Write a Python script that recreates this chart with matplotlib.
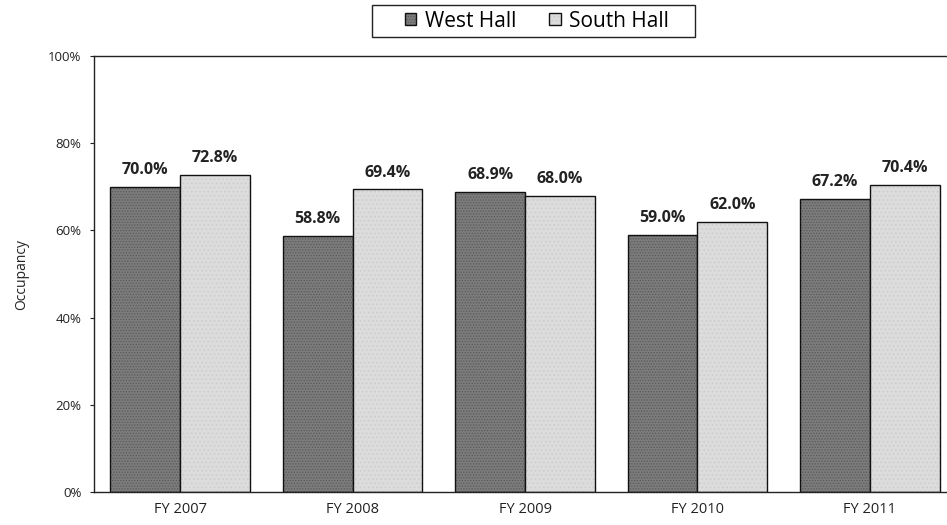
import matplotlib
matplotlib.use("Agg")
import matplotlib.pyplot as plt
from matplotlib.ticker import FuncFormatter
from matplotlib.patches import Rectangle
import numpy as np

categories = ["FY 2007", "FY 2008", "FY 2009", "FY 2010", "FY 2011"]
west_hall = [70.0, 58.8, 68.9, 59.0, 67.2]
south_hall = [72.8, 69.4, 68.0, 62.0, 70.4]
series_names = ["West Hall", "South Hall"]

plt.rcParams["font.family"] = ["Open Sans", "DejaVu Sans"]
plt.rcParams["hatch.linewidth"] = 0.6

fig = plt.figure(figsize=(9.47, 5.25), dpi=100)
# plot area runs past the right edge of the figure
ax = fig.add_axes([94 / 947, 33 / 525, 862 / 947, 436 / 525])

x = np.arange(len(categories))
w = 0.405
b1 = ax.bar(x - w / 2, west_hall, w, color="#7c7c7c", edgecolor="#111111",
            linewidth=1.0, hatch="......", label=series_names[0])
b2 = ax.bar(x + w / 2, south_hall, w, color="#dcdcdc", edgecolor="#111111",
            linewidth=1.0, hatch="....", label=series_names[1])
for b in b1:
    b._hatch_color = (0.35, 0.35, 0.35, 1.0)
for b in b2:
    b._hatch_color = (0.80, 0.80, 0.80, 1.0)

for bars, vals in ((b1, west_hall), (b2, south_hall)):
    for rect, v in zip(bars, vals):
        ax.text(rect.get_x() + rect.get_width() / 2, v + 2.0, f"{v:.1f}%",
                ha="center", va="bottom", fontsize=11.5, fontweight="bold",
                color="#222222")

ax.set_xlim(-0.5, len(categories) - 0.5)
ax.set_ylim(0, 100)
ax.set_yticks([0, 20, 40, 60, 80, 100])
ax.yaxis.set_major_formatter(FuncFormatter(lambda v, p: f"{v:.0f}%"))
ax.set_xticks(x)
ax.set_xticklabels(categories)
ax.tick_params(axis="y", length=3, width=0.8, labelsize=9.5, pad=6, colors="#222222")
ax.tick_params(axis="x", length=0, labelsize=10.5, pad=7, colors="#222222")
ax.set_ylabel("Occupancy", fontsize=10, color="#222222", labelpad=14)

for s in ("left", "bottom", "top"):
    ax.spines[s].set_color("#222222")
    ax.spines[s].set_linewidth(1.0)
ax.spines["right"].set_visible(False)

# legend with its own frame box
fig.patches.append(Rectangle((372 / 947, 1 - 37 / 525), 323 / 947, 32 / 525,
                             transform=fig.transFigure, facecolor="white",
                             edgecolor="#222222", linewidth=1.0))
leg = fig.legend(handles=[b1, b2], labels=series_names, loc="center",
                 bbox_to_anchor=(537 / 947, 1 - 21 / 525), ncol=2, frameon=False,
                 fontsize=15, handlelength=0.55, handleheight=0.55,
                 handletextpad=0.4, columnspacing=1.6, borderpad=0.1)

fig.savefig("out.png", dpi=100, facecolor="white")
